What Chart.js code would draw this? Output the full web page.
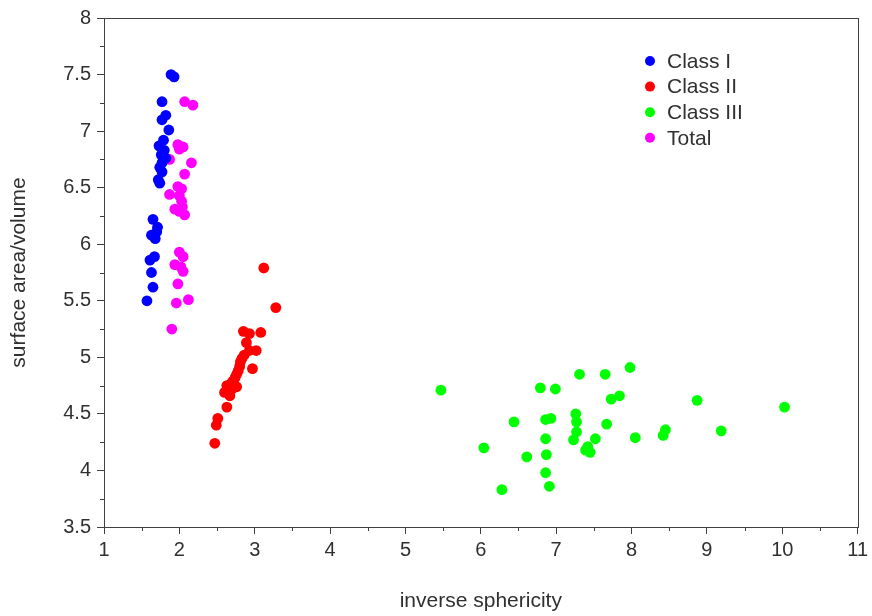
<!DOCTYPE html>
<html>
<head>
<meta charset="utf-8">
<script src="https://cdn.jsdelivr.net/npm/chart.js@4.4.1/dist/chart.umd.min.js"></script>
<style>
  html, body { margin: 0; padding: 0; background: #fff; }
</style>
</head>
<body>
<canvas id="chart" width="872" height="616"></canvas>
<script>
// series values
const classOneX = [1.89, 1.93, 1.77, 1.82, 1.77, 1.86, 1.79, 1.73, 1.80, 1.76, 1.82, 1.77, 1.74, 1.77, 1.72, 1.74,
  1.65, 1.71, 1.70, 1.63, 1.68, 1.67, 1.61, 1.63, 1.65, 1.57];
const classOneY = [7.50, 7.48, 7.26, 7.14, 7.10, 7.01, 6.92, 6.87, 6.83, 6.79, 6.76, 6.72, 6.68, 6.64, 6.57, 6.54,
  6.22, 6.15, 6.11, 6.08, 6.05, 5.89, 5.86, 5.75, 5.62, 5.50];

const classTwoX = [3.12, 3.28, 2.85, 2.93, 3.08, 2.89, 3.02, 2.93, 2.86, 2.83, 2.81, 2.80, 2.97, 2.78, 2.76, 2.74,
  2.71, 2.69, 2.63, 2.76, 2.70, 2.60, 2.67, 2.63, 2.51, 2.49, 2.47];
const classTwoY = [5.79, 5.44, 5.23, 5.21, 5.22, 5.13, 5.06, 5.06, 5.02, 4.99, 4.96, 4.92, 4.90, 4.88, 4.85, 4.82,
  4.79, 4.77, 4.75, 4.74, 4.72, 4.69, 4.66, 4.56, 4.46, 4.40, 4.24];

const classThreeX = [5.47, 6.04, 6.28, 6.44, 6.61, 6.79, 6.99, 6.86, 6.93, 6.86, 6.87, 6.86, 6.91, 7.31, 7.65, 7.98,
  7.73, 7.84, 7.26, 7.27, 7.27, 7.23, 7.67, 7.52, 7.39, 7.45, 7.42, 8.05, 8.87, 10.03, 8.45, 8.42, 9.19];
const classThreeY = [4.71, 4.20, 3.83, 4.43, 4.12, 4.73, 4.72, 4.45, 4.46, 4.28, 4.14, 3.98, 3.86, 4.85, 4.85, 4.91,
  4.63, 4.66, 4.50, 4.43, 4.34, 4.27, 4.41, 4.28, 4.18, 4.16, 4.21, 4.29, 4.62, 4.56, 4.36, 4.31, 4.35];

const totalX = [2.07, 2.18, 1.98, 2.05, 2.00, 1.87, 2.16, 2.07, 1.98, 2.03, 1.87, 2.00, 2.03, 1.94, 2.00, 2.07, 2.04,
  2.00, 2.05, 1.94, 2.02, 2.05, 1.98, 1.96, 2.12, 1.90];
const totalY = [7.26, 7.23, 6.88, 6.86, 6.84, 6.75, 6.72, 6.62, 6.51, 6.49, 6.44, 6.43, 6.38, 6.31, 6.29, 6.26, 6.33,
  5.93, 5.89, 5.82, 5.80, 5.76, 5.65, 5.48, 5.51, 5.25];

const seriesNames = ['Class I', 'Class II', 'Class III', 'Total'];
const seriesColors = ['#0000ff', '#ff0000', '#00ff00', '#ff00ff'];

const xTickMin = 1, xTickMax = 11;
const yTickMin = 3.5, yTickMax = 8;

const FONT = "'Liberation Sans', Arial, sans-serif";
const AXIS = '#404040';
const TEXT = '#303030';

function zip(xs, ys) {
  return xs.map((x, i) => ({ x: x, y: ys[i] }));
}

// frame, minor ticks and legend
const extras = {
  id: 'extras',
  afterDraw(chart) {
    const { ctx, chartArea: a, scales } = chart;
    ctx.save();
    ctx.strokeStyle = AXIS;
    ctx.lineWidth = 1;
    ctx.strokeRect(Math.round(a.left) + 0.5, Math.round(a.top) + 0.5,
      Math.round(a.right - a.left), Math.round(a.bottom - a.top));

    ctx.beginPath();
    for (let v = xTickMin + 0.5; v < xTickMax; v += 1) {
      const px = Math.round(scales.x.getPixelForValue(v)) + 0.5;
      ctx.moveTo(px, a.bottom);
      ctx.lineTo(px, a.bottom + 4);
    }
    for (let v = yTickMin + 0.25; v < yTickMax; v += 0.5) {
      const py = Math.round(scales.y.getPixelForValue(v)) + 0.5;
      ctx.moveTo(a.left, py);
      ctx.lineTo(a.left - 4, py);
    }
    ctx.stroke();

    ctx.font = '21px ' + FONT;
    ctx.textBaseline = 'middle';
    ctx.textAlign = 'left';
    seriesNames.forEach((name, i) => {
      const y = 61 + i * 25.6;
      ctx.fillStyle = seriesColors[i];
      ctx.beginPath();
      ctx.arc(650, y, 5, 0, Math.PI * 2);
      ctx.fill();
      ctx.fillStyle = TEXT;
      ctx.fillText(name, 667, y + 1);
    });
    ctx.restore();
  }
};

const ctx = document.getElementById('chart').getContext('2d');
new Chart(ctx, {
  type: 'scatter',
  data: {
    datasets: [
      { label: seriesNames[0], data: zip(classOneX, classOneY), backgroundColor: seriesColors[0] },
      { label: seriesNames[1], data: zip(classTwoX, classTwoY), backgroundColor: seriesColors[1] },
      { label: seriesNames[2], data: zip(classThreeX, classThreeY), backgroundColor: seriesColors[2] },
      { label: seriesNames[3], data: zip(totalX, totalY), backgroundColor: seriesColors[3] }
    ]
  },
  options: {
    responsive: false,
    animation: false,
    events: [],
    layout: { padding: { top: 15, right: 12, left: 0, bottom: 0 } },
    elements: { point: { radius: 5.4, borderWidth: 0, hoverRadius: 5.4 } },
    scales: {
      x: {
        type: 'linear',
        min: xTickMin,
        max: xTickMax,
        afterFit(scale) { scale.height = 89; },
        ticks: { stepSize: 1, padding: 4, color: TEXT, font: { family: FONT, size: 20 }, maxRotation: 0 },
        grid: { drawOnChartArea: false, tickLength: 7, color: AXIS },
        border: { color: AXIS },
        title: { display: true, text: 'inverse sphericity', color: TEXT, font: { family: FONT, size: 21 }, padding: { top: 0, bottom: 2 } }
      },
      y: {
        type: 'linear',
        min: yTickMin,
        max: yTickMax,
        afterFit(scale) { scale.width = 104; },
        ticks: {
          stepSize: 0.5, padding: 6, color: TEXT, font: { family: FONT, size: 20 },
          callback: (v) => String(v)
        },
        grid: { drawOnChartArea: false, tickLength: 7, color: AXIS },
        border: { color: AXIS },
        title: { display: true, text: 'surface area/volume', color: TEXT, font: { family: FONT, size: 21 }, padding: { top: 7, bottom: 0 } }
      }
    },
    plugins: {
      legend: { display: false },
      tooltip: { enabled: false }
    }
  },
  plugins: [extras]
});
</script>
</body>
</html>
